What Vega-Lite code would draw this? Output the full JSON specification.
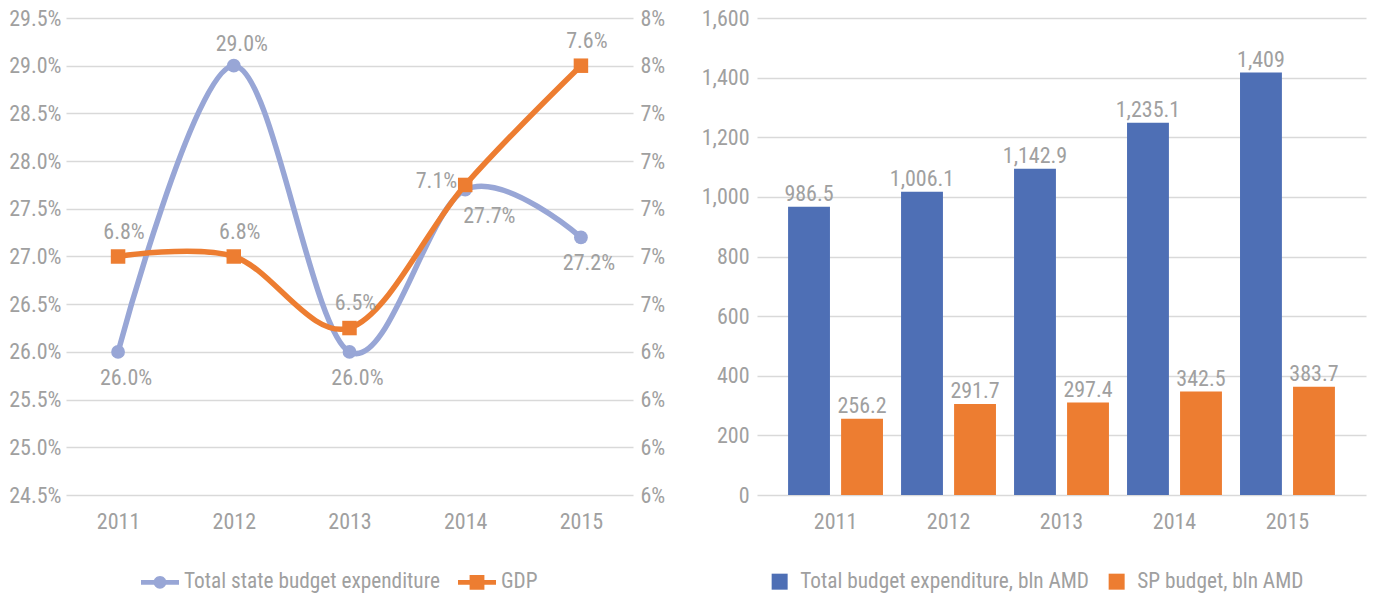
{
  "$schema": "https://vega.github.io/schema/vega-lite/v6.json",
  "padding": {"left": 8, "top": 7, "right": 5, "bottom": 5},
  "background": "white",
  "config": {
    "font": "Liberation Sans Narrow, Arial Narrow, Roboto Condensed, DejaVu Sans Condensed, Roboto",
    "view": {"stroke": null},
    "axis": {
      "labelFont": "Liberation Sans Narrow, Arial Narrow, Roboto Condensed, DejaVu Sans Condensed, Roboto",
      "labelFontSize": 22,
      "labelColor": "#A0A0A0",
      "domain": false,
      "ticks": false,
      "title": null,
      "gridColor": "#D9D9D9",
      "gridWidth": 1.5,
      "gridOpacity": 1
    },
    "legend": {
      "labelFont": "Liberation Sans Narrow, Arial Narrow, Roboto Condensed, DejaVu Sans Condensed, Roboto",
      "labelFontSize": 21.3,
      "labelColor": "#A0A0A0",
      "labelLimit": 0,
      "direction": "horizontal",
      "title": null
    },
    "text": {
      "font": "Liberation Sans Narrow, Arial Narrow, Roboto Condensed, DejaVu Sans Condensed, Roboto",
      "fontSize": 22,
      "color": "#A0A0A0"
    },
    "concat": {"spacing": 36}
  },
  "resolve": {"scale": {"color": "independent"}, "legend": {"color": "independent"}},
  "hconcat": [
    {
      "width": 567,
      "height": 477,
      "data": {"values": [
        {"year": "2011", "series": "Total state budget expenditure", "value": 0.260},
        {"year": "2012", "series": "Total state budget expenditure", "value": 0.290},
        {"year": "2013", "series": "Total state budget expenditure", "value": 0.260},
        {"year": "2014", "series": "Total state budget expenditure", "value": 0.277},
        {"year": "2015", "series": "Total state budget expenditure", "value": 0.272},
        {"year": "2011", "series": "GDP", "value": 0.068},
        {"year": "2012", "series": "GDP", "value": 0.068},
        {"year": "2013", "series": "GDP", "value": 0.065},
        {"year": "2014", "series": "GDP", "value": 0.071},
        {"year": "2015", "series": "GDP", "value": 0.076}
      ]},
      "encoding": {
        "x": {
          "field": "year", "type": "ordinal",
          "scale": {"type": "point", "padding": 0.45},
          "axis": {"labelAngle": 0, "labelPadding": 16, "grid": false}
        },
        "color": {
          "field": "series", "type": "nominal",
          "scale": {"domain": ["Total state budget expenditure", "GDP"], "range": ["#98A6D6", "#ED7D31"]},
          "legend": {
            "orient": "none",
            "legendX": 75,
            "legendY": 545,
            "symbolSize": 1444,
            "symbolStrokeWidth": 0,
            "symbolOpacity": 1,
            "labelOffset": 5,
            "columnPadding": 18,
            "encode": {
              "symbols": {
                "update": {
                  "shape": {"signal": "datum.value === 'GDP' ? 'M-1,-0.13L1,-0.13L1,0.13L-1,0.13Z M-0.39,-0.39L0.39,-0.39L0.39,0.39L-0.39,0.39Z' : 'M-1,-0.13L1,-0.13L1,0.13L-1,0.13Z M0.34,0A0.34,0.34,0,1,1,-0.34,0A0.34,0.34,0,1,1,0.34,0Z'"},
                  "fill": {"signal": "datum.value === 'GDP' ? '#ED7D31' : '#98A6D6'"},
                  "stroke": {"value": "transparent"},
                  "strokeWidth": {"value": 0}
                }
              }
            }
          }
        }
      },
      "layer": [
        {
          "transform": [{"filter": "datum.series === 'Total state budget expenditure'"}],
          "encoding": {
            "y": {
              "field": "value", "type": "quantitative",
              "scale": {"domain": [0.245, 0.295], "zero": false, "nice": false},
              "axis": {
                "orient": "left", "format": ".1%", "labelPadding": 5, "grid": true,
                "values": [0.245, 0.25, 0.255, 0.26, 0.265, 0.27, 0.275, 0.28, 0.285, 0.29, 0.295]
              }
            }
          },
          "layer": [
            {"mark": {"type": "line", "interpolate": "cardinal", "strokeWidth": 5.5}},
            {"mark": {"type": "point", "shape": "circle", "filled": true, "size": 190, "opacity": 1}},
            {
              "transform": [{"filter": "datum.year === '2011' || datum.year === '2013' || datum.year === '2015'"}],
              "mark": {"type": "text", "dy": 26, "dx": 8},
              "encoding": {"text": {"field": "value", "format": ".1%"}, "color": {"value": "#A0A0A0"}}
            },
            {
              "transform": [{"filter": "datum.year === '2014'"}],
              "mark": {"type": "text", "dy": 26, "dx": -2, "align": "left"},
              "encoding": {"text": {"field": "value", "format": ".1%"}, "color": {"value": "#A0A0A0"}}
            },
            {
              "transform": [{"filter": "datum.year === '2012'"}],
              "mark": {"type": "text", "dy": -22, "dx": 8},
              "encoding": {"text": {"field": "value", "format": ".1%"}, "color": {"value": "#A0A0A0"}}
            }
          ]
        },
        {
          "transform": [{"filter": "datum.series === 'GDP'"}],
          "encoding": {
            "y": {
              "field": "value", "type": "quantitative",
              "scale": {"domain": [0.058, 0.078], "zero": false, "nice": false},
              "axis": {
                "orient": "right", "format": ".0%", "labelPadding": 7, "grid": false,
                "values": [0.058, 0.06, 0.062, 0.064, 0.066, 0.068, 0.07, 0.072, 0.074, 0.076, 0.078]
              }
            }
          },
          "layer": [
            {"mark": {"type": "line", "interpolate": "cardinal", "strokeWidth": 5.5}},
            {"mark": {"type": "point", "shape": "square", "filled": true, "size": 210, "opacity": 1}},
            {
              "transform": [{"filter": "datum.year !== '2014'"}],
              "mark": {"type": "text", "dy": -25, "dx": 6},
              "encoding": {"text": {"field": "value", "format": ".1%"}, "color": {"value": "#A0A0A0"}}
            },
            {
              "transform": [{"filter": "datum.year === '2014'"}],
              "mark": {"type": "text", "dy": -4, "dx": -8, "align": "right"},
              "encoding": {"text": {"field": "value", "format": ".1%"}, "color": {"value": "#A0A0A0"}}
            }
          ]
        }
      ],
      "resolve": {"scale": {"y": "independent"}}
    },
    {
      "width": 609,
      "height": 477,
      "data": {"values": [
        {"year": "2011", "series": "Total budget expenditure, bln AMD", "value": 967, "label": "986.5"},
        {"year": "2012", "series": "Total budget expenditure, bln AMD", "value": 1017, "label": "1,006.1"},
        {"year": "2013", "series": "Total budget expenditure, bln AMD", "value": 1094, "label": "1,142.9"},
        {"year": "2014", "series": "Total budget expenditure, bln AMD", "value": 1249, "label": "1,235.1"},
        {"year": "2015", "series": "Total budget expenditure, bln AMD", "value": 1417, "label": "1,409"},
        {"year": "2011", "series": "SP budget, bln AMD", "value": 256, "label": "256.2"},
        {"year": "2012", "series": "SP budget, bln AMD", "value": 305, "label": "291.7"},
        {"year": "2013", "series": "SP budget, bln AMD", "value": 310, "label": "297.4"},
        {"year": "2014", "series": "SP budget, bln AMD", "value": 347, "label": "342.5"},
        {"year": "2015", "series": "SP budget, bln AMD", "value": 363, "label": "383.7"}
      ]},
      "encoding": {
        "x": {
          "field": "year", "type": "ordinal",
          "scale": {"paddingInner": 0.16, "paddingOuter": 0.275},
          "axis": {"labelAngle": 0, "labelPadding": 16, "grid": false}
        },
        "xOffset": {
          "field": "series", "type": "nominal",
          "scale": {"domain": ["Total budget expenditure, bln AMD", "SP budget, bln AMD"], "paddingInner": 0.21, "paddingOuter": 0}
        },
        "y": {
          "field": "value", "type": "quantitative",
          "scale": {"domain": [0, 1600], "nice": false},
          "axis": {"format": ",.0f", "labelPadding": 8, "grid": true, "values": [0, 200, 400, 600, 800, 1000, 1200, 1400, 1600]}
        }
      },
      "layer": [
        {
          "mark": {"type": "bar"},
          "encoding": {
            "color": {
              "field": "series", "type": "nominal",
              "scale": {"domain": ["Total budget expenditure, bln AMD", "SP budget, bln AMD"], "range": ["#4E6FB5", "#ED7D31"]},
              "legend": {
                "orient": "none",
                "legendX": 12,
                "legendY": 553,
                "symbolType": "square",
                "symbolSize": 256,
                "symbolStrokeWidth": 0,
                "symbolOpacity": 1,
                "labelOffset": 10,
                "columnPadding": 16
              }
            }
          }
        },
        {
          "mark": {"type": "text", "dy": -13},
          "encoding": {"text": {"field": "label"}}
        }
      ]
    }
  ]
}
